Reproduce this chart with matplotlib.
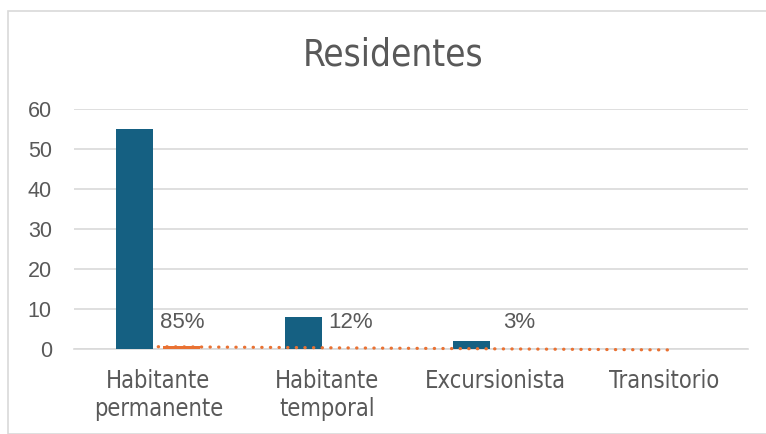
import numpy as np
import matplotlib.pyplot as plt
from matplotlib.patches import Rectangle

categories = ['Habitante\npermanente', 'Habitante\ntemporal', 'Excursionista', 'Transitorio']
counts = [55, 8, 2, 0]
shares = [0.85, 0.12, 0.03, 0.0]
share_labels = ['85%', '12%', '3%']
y_ticks = [0, 10, 20, 30, 40, 50, 60]

BLUE = '#156082'
ORANGE = '#E97132'
TEXT = '#595959'
GRID = '#D9D9D9'

fig = plt.figure(figsize=(7.66, 4.34), dpi=100)
fig.patches.append(Rectangle((8 / 766, 0), 1.2, 1 - 11 / 434, transform=fig.transFigure,
                             fill=False, edgecolor=GRID, linewidth=1.2))
ax = fig.add_axes([74 / 766, 1 - 349.3 / 434, 674 / 766, 240 / 434])

x = np.arange(len(categories))
w = 0.22
ax.bar(x - 0.14, counts, width=w, color=BLUE, zorder=3)
ax.bar(x + 0.14, shares, width=w, color=ORANGE, zorder=3)

# linear trendline of the share series
k, b = np.polyfit(x, shares, 1)
tx = np.array([0.0, 3.05])
ax.plot(tx, k * tx + b, color=ORANGE, linestyle=(0, (0.1, 2.6)), linewidth=2.3,
        dash_capstyle='round', zorder=4, clip_on=False)

for i, lab in enumerate(share_labels):
    ax.text(x[i] + 0.14, 6.8, lab, ha='center', va='center', fontsize=16,
            color=TEXT, family='Liberation Sans', zorder=5)

narrow = dict(family='DejaVu Sans', stretch='condensed')
ax.set_xlim(-0.5, len(categories) - 0.5)
ax.set_ylim(0, 60)
ax.set_yticks(y_ticks)
ax.set_xticks(x)
ax.set_xticklabels(categories, fontsize=17, color=TEXT, linespacing=1.25, **narrow)
ax.tick_params(axis='y', length=0, pad=16, labelsize=15.5, labelcolor=TEXT)
ax.tick_params(axis='x', length=0, pad=14)
for t in ax.get_yticklabels():
    t.set_family('Liberation Sans')
ax.grid(axis='y', color=GRID, linewidth=1.2, zorder=0)
for s in ['top', 'right', 'left']:
    ax.spines[s].set_visible(False)
ax.spines['bottom'].set_color(GRID)
ax.spines['bottom'].set_linewidth(1.2)

fig.text(393 / 766, 1 - 55 / 434, 'Residentes', ha='center', va='center', fontsize=26.5,
         color=TEXT, **narrow)

fig.savefig('out.png', dpi=100)
